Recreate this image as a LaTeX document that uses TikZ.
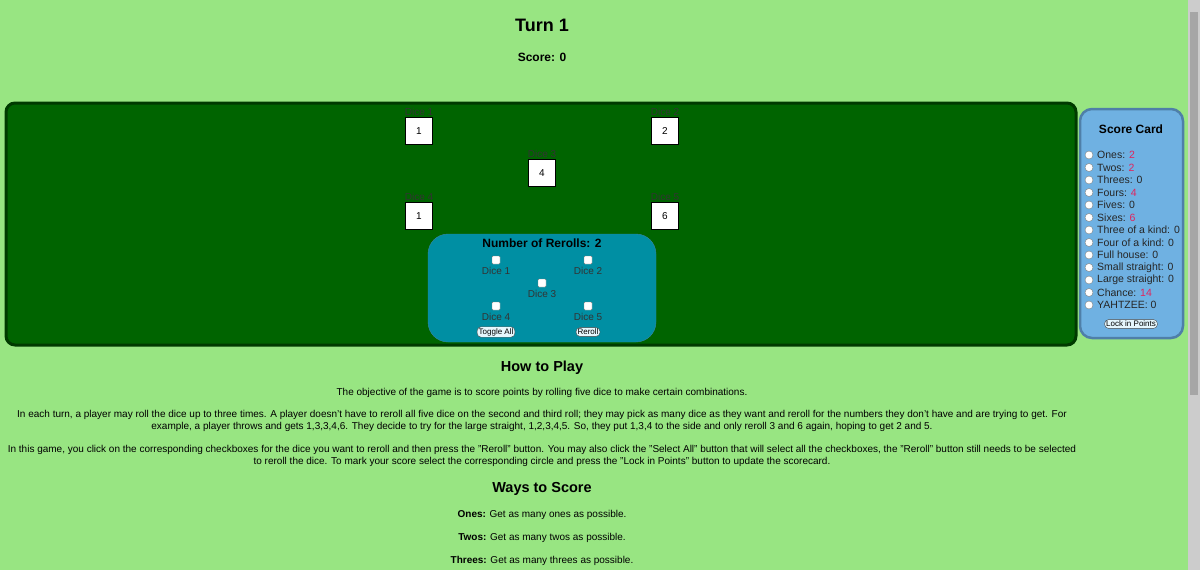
\documentclass[tikz,border=0pt]{standalone}
\usepackage{fontspec}
\setmainfont{Liberation Sans}
\definecolor{bg}{HTML}{98E582}
\definecolor{board}{HTML}{006400}
\definecolor{boardb}{HTML}{003A00}
\definecolor{panel}{HTML}{008FA3}
\definecolor{card}{HTML}{6FB1E2}
\definecolor{cardb}{HTML}{4F7FA8}
\definecolor{pink}{HTML}{E0245E}
\begin{document}
\begin{tikzpicture}[x=1pt,y=-1pt,
  die/.style={draw=black,line width=1.5pt,fill=white,minimum size=27pt,inner sep=0pt,font=\fontsize{10}{12}\selectfont},
  dlab/.style={font=\fontsize{10}{12}\selectfont,text=black!80,inner sep=0pt},
  cb/.style={draw=gray,fill=white,minimum size=8pt,inner sep=0pt,rounded corners=1pt},
  btn/.style={draw=black!70,fill=white!90!cyan,rounded corners=4pt,inner sep=1.5pt,font=\fontsize{8}{9}\selectfont},
  rad/.style={draw=gray,fill=white,circle,minimum size=8pt,inner sep=0pt},
  sc/.style={anchor=west,inner sep=0pt,font=\fontsize{10.5}{12}\selectfont,text=black!85},
  body/.style={font=\fontsize{10}{12}\selectfont,inner sep=0pt,align=center}]
\fill[bg] (0,0) rectangle (1200,570);
\fill[black!20] (1188,0) rectangle (1200,570);
\fill[black!35] (1190,12) rectangle (1198,395);
\node[font=\bfseries\fontsize{18}{20}\selectfont] (t) at (542,25) {Turn 1};
\node[font=\bfseries\fontsize{12}{14}\selectfont] (s) at (542,57) {Score: 0};
\draw[boardb,fill=board,line width=3pt,rounded corners=9pt] (6,103) rectangle (1076,345);
\node[die] (d1) at (419,131) {1};
\node[die] (d2) at (665,131) {2};
\node[die] (d3) at (542,173) {4};
\node[die] (d4) at (419,216) {1};
\node[die] (d5) at (665,216) {6};
\foreach \n/\t in {d1/Dice 1,d2/Dice 2,d3/Dice 3,d4/Dice 4,d5/Dice 5}
  \node[dlab,above=1pt] at (\n.north) {\t};
\draw[cardb!70!panel,fill=panel,rounded corners=20pt] (428,234) rectangle (656,342);
\node[font=\bfseries\fontsize{12}{14}\selectfont] (nr) at (542,243) {Number of Rerolls: 2};
\node[cb] (c1) at (496,260) {}; \node[dlab] at (496,271) {Dice 1};
\node[cb] (c2) at (588,260) {}; \node[dlab] at (588,271) {Dice 2};
\node[cb] (c3) at (542,283) {}; \node[dlab] at (542,294) {Dice 3};
\node[cb] (c4) at (496,306) {}; \node[dlab] at (496,317) {Dice 4};
\node[cb] (c5) at (588,306) {}; \node[dlab] at (588,317) {Dice 5};
\node[btn] (ta) at (496,332) {Toggle All};
\node[btn] (rr) at (588,332) {Reroll};
\draw[cardb,fill=card,line width=2.5pt,rounded corners=12pt] (1080,109) rectangle (1183,338);
\node[font=\bfseries\fontsize{12}{14}\selectfont] (sct) at (1131,129) {Score Card};
\foreach \i/\t in {0/Ones: \textcolor{pink}{2},1/Twos: \textcolor{pink}{2},2/Threes: 0,3/Fours: \textcolor{pink}{4},4/Fives: 0,5/Sixes: \textcolor{pink}{6},6/Three of a kind: 0,7/Four of a kind: 0,8/Full house: 0,9/Small straight: 0,10/Large straight: 0,11/Chance: \textcolor{pink}{14},12/YAHTZEE: 0}{
  \node[rad] (r\i) at (1089,155+12.5*\i) {};
  \node[sc] (l\i) at (1097,155+12.5*\i) {\t};
}
\node[btn] (lock) at (1131,324) {Lock in Points};
\node[font=\bfseries\fontsize{14.5}{16}\selectfont] (h1) at (542,368) {How to Play};
\node[body] (p1) at (542,393) {The objective of the game is to score points by rolling five dice to make certain combinations.};
\node[body] (p2) at (542,421) {In each turn, a player may roll the dice up to three times. A player doesn't have to reroll all five dice on the second and third roll; they may pick as many dice as they want and reroll for the numbers they don't have and are trying to get. For\\example, a player throws and gets 1,3,3,4,6. They decide to try for the large straight, 1,2,3,4,5. So, they put 1,3,4 to the side and only reroll 3 and 6 again, hoping to get 2 and 5.};
\node[body] (p3) at (542,456) {In this game, you click on the corresponding checkboxes for the dice you want to reroll and then press the "Reroll" button. You may also click the "Select All" button that will select all the checkboxes, the "Reroll" button still needs to be selected\\to reroll the dice. To mark your score select the corresponding circle and press the "Lock in Points" button to update the scorecard.};
\node[font=\bfseries\fontsize{14.5}{16}\selectfont] (h2) at (542,489) {Ways to Score};
\node[body] (w1) at (542,515) {\textbf{Ones:} Get as many ones as possible.};
\node[body] (w2) at (542,538) {\textbf{Twos:} Get as many twos as possible.};
\node[body] (w3) at (542,561) {\textbf{Threes:} Get as many threes as possible.};
\end{tikzpicture}
\end{document}
